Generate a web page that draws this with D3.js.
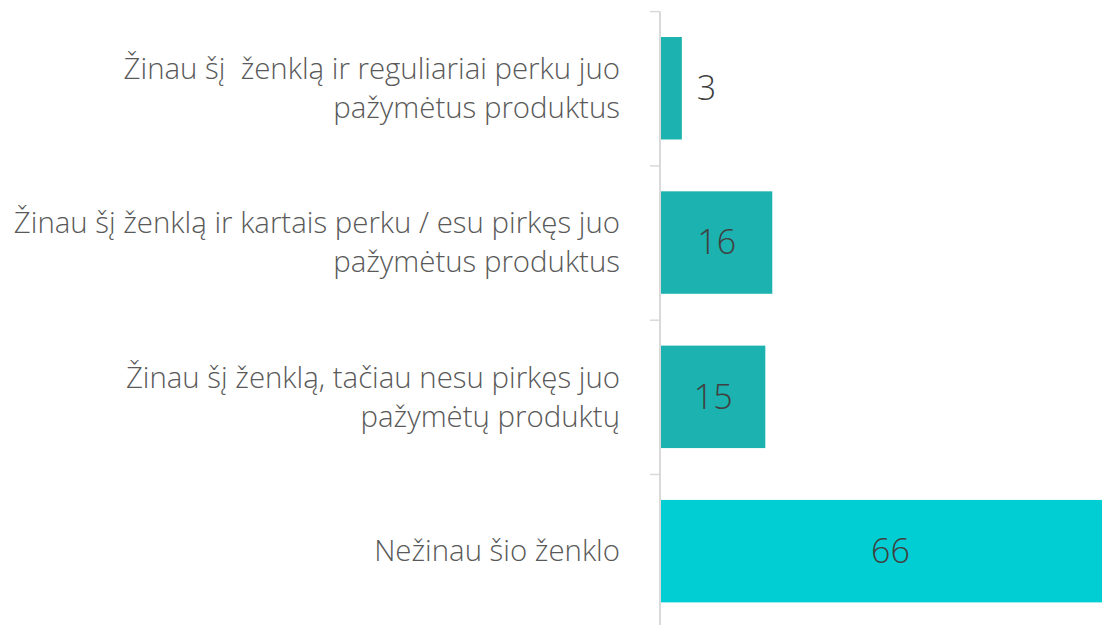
<!DOCTYPE html>
<html><head><meta charset="utf-8">
<script src="https://cdn.jsdelivr.net/npm/d3@7"></script>
<style>
html,body{margin:0;padding:0;background:#fff;}
svg{display:block;}
text{font-family:"Open Sans","Segoe UI",sans-serif;}
</style></head>
<body><svg id="chart" width="1102" height="625"></svg>
<script>
const categories = [
  ["Žinau šį  ženklą ir reguliariai perku juo", "pažymėtus produktus"],
  ["Žinau šį ženklą ir kartais perku / esu pirkęs juo", "pažymėtus produktus"],
  ["Žinau šį ženklą, tačiau nesu pirkęs juo", "pažymėtų produktų"],
  ["Nežinau šio ženklo"]
];
const values = [3, 16, 15, 66];
const barColors = ["#1cb2af", "#1cb2af", "#1cb2af", "#00ced3"];

const svg = d3.select("#chart");
const W = 1102, H = 625;
const axisX = 660;

const y = d3.scaleBand().domain(d3.range(values.length)).range([11.1, 628.3]).paddingInner(0.336).paddingOuter(0.168);
const x = d3.scaleLinear().domain([0, 66]).range([axisX + 1, 1120]);

// bars
svg.append("g").selectAll("rect").data(values).join("rect")
  .attr("x", x(0))
  .attr("y", (d, i) => y(i))
  .attr("width", d => x(d) - x(0))
  .attr("height", y.bandwidth())
  .attr("fill", (d, i) => barColors[i]);

// axis line + ticks at band boundaries
const boundaries = d3.range(values.length + 1).map(i => 11.1 + i * y.step());
const ax = svg.append("g");
ax.append("line").attr("x1", axisX).attr("x2", axisX).attr("y1", 11.5).attr("y2", H)
  .attr("stroke", "#d9d9d9").attr("stroke-width", 2);
ax.selectAll("line.tick").data(boundaries).join("line").attr("class", "tick")
  .attr("x1", axisX - 10).attr("x2", axisX).attr("y1", d => d + 0.5).attr("y2", d => d + 0.5)
  .attr("stroke", "#d9d9d9").attr("stroke-width", 1.5);

// category labels
const fs = 29.4, lh = 39;
const lab = svg.append("g").selectAll("text").data(categories).join("text")
  .attr("text-anchor", "end")
  .attr("fill", "#595959")
  .attr("font-size", fs)
  .attr("font-weight", 300)
  .style("white-space", "pre")
  .attr("transform", (d, i) => `translate(620,${y(i) + y.bandwidth() / 2})`);
lab.each(function(lines) {
  const t = d3.select(this);
  const n = lines.length;
  lines.forEach((ln, k) => {
    t.append("tspan").attr("x", 0)
      .attr("y", (k - (n - 1) / 2) * lh)
      .attr("dy", "0.35em")
      .text(ln);
  });
});

// value labels
svg.append("g").selectAll("text").data(values).join("text")
  .attr("fill", "#404040")
  .attr("font-size", 34)
  .attr("font-weight", 300)
  .attr("dy", "0.35em")
  .attr("y", (d, i) => y(i) + y.bandwidth() / 2)
  .attr("x", d => d < 5 ? x(d) + 15 : (x(0) + x(d)) / 2)
  .attr("text-anchor", d => d < 5 ? "start" : "middle")
  .text(d => d);
</script></body></html>
